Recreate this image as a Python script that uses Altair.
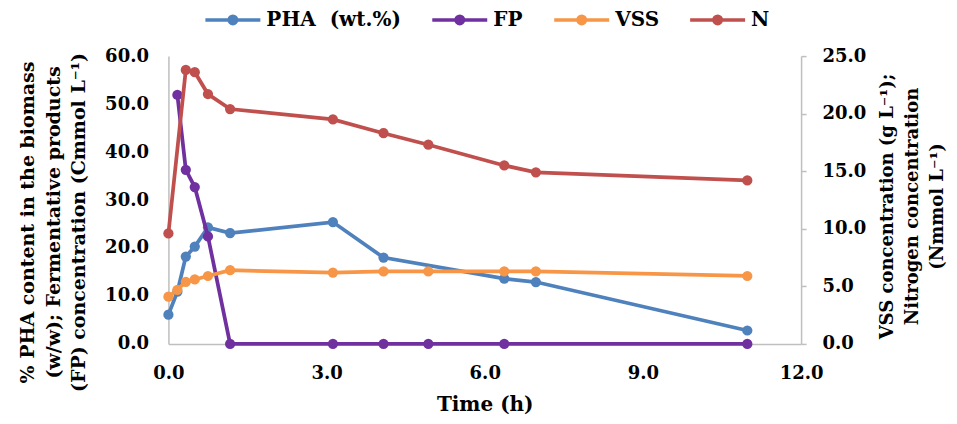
import altair as alt
import pandas as pd

series_names = ["PHA\u00a0\u00a0(wt.%)", "FP", "VSS", "N"]
series_colors = ["#4F81BD", "#7030A0", "#F79646", "#C0504D"]

pha_time = [0, 0.17, 0.33, 0.5, 0.75, 1.17, 3.12, 4.08, 6.37, 6.97, 10.98]
pha_vals = [6.1, 10.9, 18.2, 20.3, 24.3, 23.1, 25.4, 18.0, 13.6, 12.9, 2.8]

fp_time = [0.17, 0.33, 0.5, 0.75, 1.17, 3.12, 4.08, 4.93, 6.37, 10.98]
fp_vals = [51.9, 36.3, 32.7, 22.4, 0.0, 0.0, 0.0, 0.0, 0.0, 0.0]

vss_time = [0, 0.17, 0.33, 0.5, 0.75, 1.17, 3.12, 4.08, 4.93, 6.37, 6.97, 10.98]
vss_vals = [4.1, 4.7, 5.4, 5.6, 5.9, 6.4, 6.2, 6.3, 6.3, 6.3, 6.3, 5.9]

n_time = [0, 0.33, 0.5, 0.75, 1.17, 3.12, 4.08, 4.93, 6.37, 6.97, 10.98]
n_vals = [9.6, 23.8, 23.6, 21.7, 20.4, 19.5, 18.3, 17.3, 15.5, 14.9, 14.2]

x_ticks = [0, 3, 6, 9, 12]
left_ticks = [0, 10, 20, 30, 40, 50, 60]
right_ticks = [0, 5, 10, 15, 20, 25]

def frame(name, times, vals):
    return pd.DataFrame({"series": name, "time": times, "value": vals})

dfs = {
    series_names[0]: frame(series_names[0], pha_time, pha_vals),
    "FP": frame("FP", fp_time, fp_vals),
    "VSS": frame("VSS", vss_time, vss_vals),
    "N": frame("N", n_time, n_vals),
}

FONT = "DejaVu Serif"
AXIS_GRAY = "#BFBFBF"

legend_path = ("M-1,0H1"
               "M-0.136,0A0.136,0.136,0,1,1,0.136,0A0.136,0.136,0,1,1,-0.136,0"
               "M-0.05,0A0.05,0.05,0,1,1,0.05,0A0.05,0.05,0,1,1,-0.05,0")

color_enc = alt.Color(
    "series:N",
    scale=alt.Scale(domain=series_names, range=series_colors),
    legend=alt.Legend(
        title=None, orient="none", direction="horizontal", columns=4,
        legendX=35, legendY=-66,
        symbolType=legend_path, symbolSize=3025, symbolStrokeWidth=3.5,
        symbolFillColor="transparent",
        labelFont=FONT, labelFontWeight="bold", labelFontSize=20, labelColor="black",
        labelOffset=4, columnPadding=24, symbolOffset=0,
    ),
)

x_enc = alt.X(
    "time:Q",
    scale=alt.Scale(domain=[0, 12], nice=False),
    axis=alt.Axis(
        values=x_ticks, format=".1f", title="Time (h)", grid=False,
        ticks=False, labelPadding=21, titlePadding=12, labelFlush=False,
        domainColor=AXIS_GRAY, domainWidth=1.5, titleFontSize=20,
    ),
)

y_left = alt.Y(
    "value:Q",
    scale=alt.Scale(domain=[0, 60], nice=False),
    axis=alt.Axis(
        values=left_ticks, format=".1f", grid=False, ticks=False,
        labelPadding=20, domainColor=AXIS_GRAY, domainWidth=1.5,
        title=["% PHA content in the biomass",
               "(w/w); Fermentative products",
               "(FP) concentration (Cmmol L\u207b\u00b9)"],
        titleX=-130.5, titleY=166, titleLineHeight=25.5,
        titleBaseline="bottom", titleFontSize=19,
    ),
)

y_right = alt.Y(
    "value:Q",
    scale=alt.Scale(domain=[0, 25], nice=False),
    axis=alt.Axis(
        orient="right", values=right_ticks, format=".1f", grid=False,
        ticks=True, tickSize=5, tickColor=AXIS_GRAY, tickWidth=1.5,
        labelPadding=16, domainColor=AXIS_GRAY, domainWidth=1.5,
        title=["VSS concentration (g L\u207b\u00b9);",
               "Nitrogen concentration",
               "(Nmmol L\u207b\u00b9)"],
        titleAngle=270, titleX=95, titleY=150, titleLineHeight=25.5,
        titleBaseline="bottom", titleFontSize=18,
    ),
)

def series_layers(name, y_enc):
    base = alt.Chart(dfs[name]).encode(x=x_enc, y=y_enc, color=color_enc)
    line = base.mark_line(strokeWidth=3.75)
    pts = base.mark_point(filled=True, size=105, opacity=1)
    return [line, pts]

left = alt.layer(*(series_layers(series_names[0], y_left) + series_layers("FP", y_left)))
right = alt.layer(*(series_layers("VSS", y_right) + series_layers("N", y_right)))

chart = (
    alt.layer(left, right)
    .resolve_scale(y="independent")
    .properties(
        width=633, height=288,
        autosize=alt.AutoSizeParams(type="none"),
        padding={"left": 160.5, "top": 48, "right": 148, "bottom": 72},
    )
    .configure_view(stroke=None)
    .configure_axis(
        labelFont=FONT, labelFontWeight="bold", labelFontSize=18, labelColor="black",
        titleFont=FONT, titleFontWeight="bold", titleColor="black",
    )
)

chart.save("out.html", embed_options={"renderer": "svg", "actions": False})
